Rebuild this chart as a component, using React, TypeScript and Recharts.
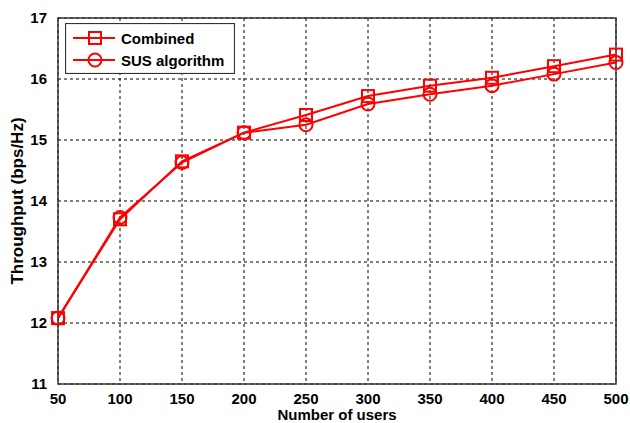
import { LineChart, Line, XAxis, YAxis, CartesianGrid, ReferenceArea } from "recharts";

const users = [50, 100, 150, 200, 250, 300, 350, 400, 450, 500];
const combined = [12.08, 13.7, 14.65, 15.12, 15.41, 15.72, 15.89, 16.02, 16.21, 16.4];
const sus = [12.08, 13.73, 14.63, 15.12, 15.25, 15.59, 15.75, 15.89, 16.08, 16.27];
const xTicks = [50, 100, 150, 200, 250, 300, 350, 400, 450, 500];
const yTicks = [11, 12, 13, 14, 15, 16, 17];

const data = users.map((u, i) => ({ users: u, combined: combined[i], sus: sus[i] }));

const RED = "#ff0000";
const FONT = "'Liberation Sans', Arial, sans-serif";

const SquareDot = (props: any) => {
  const { cx, cy, index } = props;
  if (cx == null || cy == null) return null;
  return <rect key={`sq-${index}`} x={cx - 6} y={cy - 6} width={12} height={12} fill="none" stroke={RED} strokeWidth={2} />;
};

const CircleDot = (props: any) => {
  const { cx, cy, index } = props;
  if (cx == null || cy == null) return null;
  return <circle key={`ci-${index}`} cx={cx} cy={cy} r={6.5} fill="none" stroke={RED} strokeWidth={2} />;
};

// legend drawn on top of the plot, like the matlab one
const LegendBox = () => (
  <svg width={170} height={51} style={{ position: "absolute", left: 65, top: 23 }}>
    <rect x={0.5} y={0.5} width={169} height={50} fill="#fff" stroke="#333" strokeWidth={1.2} />
    <line x1={8} y1={15} x2={50} y2={15} stroke={RED} strokeWidth={2} />
    <rect x={24} y={9} width={12} height={12} fill="none" stroke={RED} strokeWidth={2} />
    <text x={56} y={20.5} fontSize={15} fontWeight="bold" fontFamily={FONT} fill="#000">Combined</text>
    <line x1={8} y1={37} x2={50} y2={37} stroke={RED} strokeWidth={2} />
    <circle cx={30} cy={37} r={6.5} fill="none" stroke={RED} strokeWidth={2} />
    <text x={56} y={42.5} fontSize={15} fontWeight="bold" fontFamily={FONT} fill="#000">SUS algorithm</text>
  </svg>
);

export default function App() {
  const tickStyle = { fontSize: 15, fontWeight: "bold", fontFamily: FONT, fill: "#000" };
  return (
    <div style={{ position: "absolute", left: 0, top: 0, width: 630, height: 423, background: "#fff" }}>
      <LineChart width={630} height={423} data={data} margin={{ top: 18, right: 14, left: 0, bottom: 0 }}>
        <CartesianGrid stroke="#000" strokeDasharray="3 3" strokeWidth={1} />
        <XAxis
          dataKey="users"
          type="number"
          domain={[50, 500]}
          ticks={xTicks}
          tickLine={false}
          axisLine={false}
          tick={tickStyle}
          tickMargin={3}
          height={39}
          label={{ value: "Number of users", position: "insideBottom", offset: 3, style: tickStyle }}
        />
        <YAxis
          type="number"
          domain={[11, 17]}
          ticks={yTicks}
          tickLine={false}
          axisLine={false}
          tick={tickStyle}
          tickMargin={5}
          width={58}
          label={{ value: "Throughput (bps/Hz)", angle: -90, position: "insideLeft", offset: 17, style: { ...tickStyle, fontSize: 17, textAnchor: "middle" } }}
        />
        <ReferenceArea x1={50} x2={500} y1={11} y2={17} fill="none" stroke="#333" strokeWidth={1.5} ifOverflow="visible" />
        <Line dataKey="combined" name="Combined" stroke={RED} strokeWidth={2} dot={SquareDot} isAnimationActive={false} />
        <Line dataKey="sus" name="SUS algorithm" stroke={RED} strokeWidth={2} dot={CircleDot} isAnimationActive={false} />
      </LineChart>
      <LegendBox />
    </div>
  );
}
